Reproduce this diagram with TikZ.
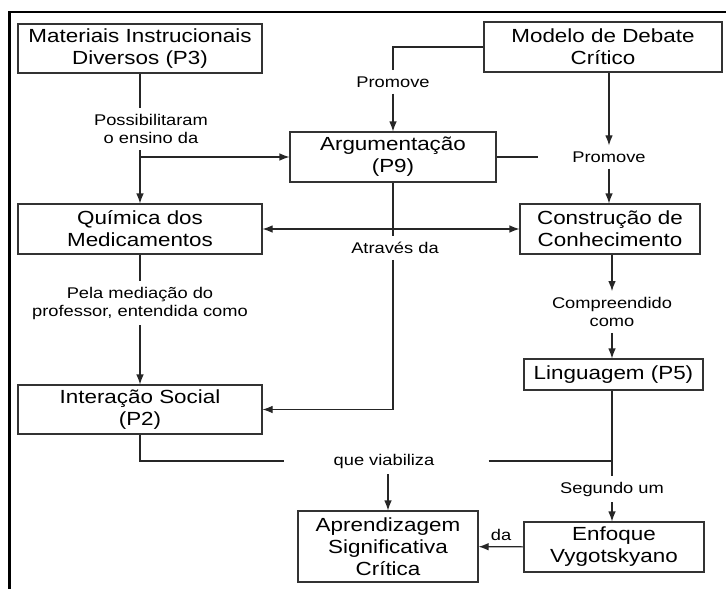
\documentclass[tikz,border=0pt]{standalone}
\usepackage{fontspec}
\setmainfont{Liberation Sans}[FakeStretch=1.18]
\usepackage{tikz}
\usetikzlibrary{arrows.meta,shapes,calc,positioning}
\tikzset{
  >={Latex[length=10pt,width=7.5pt]}
}

\begin{document}
\begin{tikzpicture}[x=1pt,y=-1pt,
    concept/.style={rectangle,draw=black!80,line width=1.1pt,align=center,inner sep=2pt,
        font=\fontsize{19}{22}\selectfont},
    lbl/.style={align=center,inner xsep=2pt,inner ysep=6pt,
        font=\fontsize{15.5}{18}\selectfont},
    link/.style={draw=black!85,line width=1.1pt}]
        \useasboundingbox (0,0) rectangle (726,589);
        \draw[line width=2.6pt] (9.5,589) -- (9.5,12) -- (726,12);

        \node (MAT) at (140, 48.5) [concept,minimum width=244pt,minimum height=49pt] {Materiais Instrucionais\\Diversos (P3)};
        \node (DEB) at (603, 47) [concept,minimum width=238pt,minimum height=50pt] {Modelo de Debate\\Crítico};
        \node (ARG) at (393, 157) [concept,minimum width=206pt,minimum height=50pt] {Argumentação\\(P9)};
        \node (QUI) at (140, 229) [concept,minimum width=244pt,minimum height=50pt] {Química dos\\Medicamentos};
        \node (CON) at (610, 229) [concept,minimum width=180pt,minimum height=50pt] {Construção de\\Conhecimento};
        \node (INT) at (140, 409.5) [concept,minimum width=244pt,minimum height=49pt] {Interação Social\\(P2)};
        \node (LIN) at (613.5, 374.5) [concept,minimum width=179pt,minimum height=31pt] {Linguagem (P5)};
        \node (APR) at (388, 546.5) [concept,minimum width=180pt,minimum height=71pt] {Aprendizagem\\Significativa\\Crítica};
        \node (ENF) at (614, 547) [concept,minimum width=180pt,minimum height=50pt] {Enfoque\\Vygotskyano};

        \node (Lpos) at (151, 129) [lbl] {Possibilitaram\\o ensino da};
        \node (Lprom1) at (393, 82) [lbl] {Promove};
        \node (Lprom2) at (609, 157) [lbl] {Promove};
        \node (Latr) at (395, 248) [lbl] {Através da};
        \node (Lpela) at (140, 303) [lbl] {Pela mediação do\\professor, entendida como};
        \node (Lcomp) at (612, 312) [lbl] {Compreendido\\como};
        \node (Lque) at (384, 461) [lbl] {que viabiliza};
        \node (Lseg) at (612, 489) [lbl] {Segundo um};
        \coordinate (J1) at (MAT.south |- ARG);
        \coordinate (J2) at (Lseg |- Lque);

        \draw[link] (MAT) -- (MAT.south |- Lpos.north);
        \draw[link,->] (MAT.south |- Lpos.south) -- (QUI);
        \draw[link,->] (J1) -- (ARG);
        \draw[link] (DEB) -| (Lprom1);
        \draw[link,->] (Lprom1) -- (ARG);
        \draw[link,->] (DEB.south -| Lprom2) -- (Lprom2);
        \draw[link,->] (Lprom2) -- (Lprom2 |- CON.north);
        \draw[link] (ARG) -- ([xshift=-32pt]Lprom2.west);
        \draw[link,<->] (QUI) -- (CON);
        \draw[link] (ARG) -- (ARG.south |- Latr.north);
        \draw[link,->] (ARG.south |- Latr.south) |- (INT);
        \draw[link] (QUI) -- (Lpela);
        \draw[link,->] (Lpela) -- (INT);
        \draw[link,->] (CON.south -| Lcomp) -- (Lcomp);
        \draw[link,->] (Lcomp) -- (Lcomp |- LIN.north);
        \draw[link] (LIN.south -| Lseg) -- (Lseg);
        \draw[link,->] (Lseg) -- (Lseg |- ENF.north);
        \draw[link] ([xshift=52pt]Lque.east) -- (J2);
        \draw[link] (INT.south) |- ([xshift=-47pt]Lque.west);
        \draw[link,->] (Lque.south -| APR) -- (APR);
        \draw[link,->] (ENF) -- node[lbl,above] (Lda) {da} (APR);
    \end{tikzpicture}
\end{document}
